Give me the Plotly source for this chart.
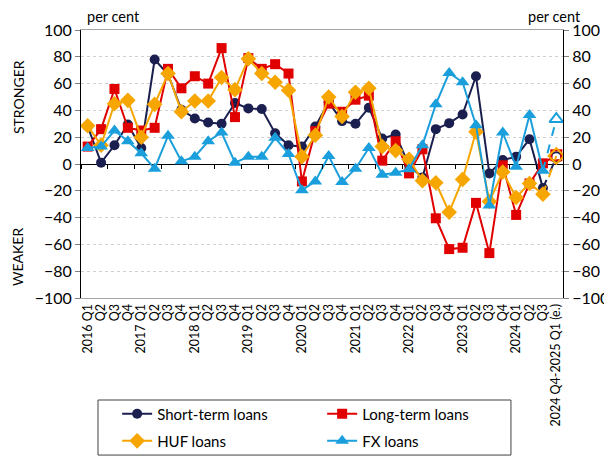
import plotly.graph_objects as go

labels = ["2016 Q1", "Q2", "Q3", "Q4",
          "2017 Q1", "Q2", "Q3", "Q4",
          "2018 Q1", "Q2", "Q3", "Q4",
          "2019 Q1", "Q2", "Q3", "Q4",
          "2020 Q1", "Q2", "Q3", "Q4",
          "2021 Q1", "Q2", "Q3", "Q4",
          "2022 Q1", "Q2", "Q3", "Q4",
          "2023 Q1", "Q2", "Q3", "Q4",
          "2024 Q1", "Q2", "Q3",
          "2024 Q4-2025 Q1 (e.)"]

short_term = [28, 1, 14, 29.5, 12, 78, 67, 40.5, 34, 31, 30, 45.5, 41.5, 41, 23, 14,
              13, 28, 46, 32, 30, 42, 19, 22, -1, -10, 26, 30.5, 37, 65.5, -7, 3,
              5.5, 18.5, -18, 5]
long_term = [13, 26, 56, 27, 25, 27, 71, 56.5, 65.5, 60, 86.5, 35, 79, 71, 74.5, 67.5,
             -13, 24.5, 45, 39, 48, 51, 2.5, 17, -7, 11, -40.5, -63.5, -62.5, -29, -66.5, -1,
             -38, -14.5, 0.5, 6.5]
huf = [28.5, 14, 45, 47.5, 20, 44.5, 67.5, 39, 47, 47, 64.5, 55.5, 78.5, 67.5, 61, 55,
       5.5, 21.5, 50, 35.5, 53.5, 56.5, 13, 10, 3.5, -12.5, -14, -36, -11.5, 24, -28, -6,
       -25, -14.5, -22.5, 6]
fx = [12, 13, 25, 17, 8, -3.5, 21, 2, 5.5, 17, 23.5, 1, 5.5, 5.5, 19.5, 7.5,
      -19.5, -13, 6, -13.5, -3.5, 12, -8, -6.5, -4, 14, 44.5, 68, 61, 29, -31, 23.5,
      -2, 36.5, -5, 33.5]

series = [
    ("Short-term loans", short_term, "#1b1f4f", "circle", 10, "legend"),
    ("Long-term loans", long_term, "#e00000", "square", 10, "legend"),
    ("HUF loans", huf, "#f7a600", "diamond", 12, "legend2"),
    ("FX loans", fx, "#1a9fdc", "triangle-up", 12, "legend2"),
]

idx = list(range(len(labels)))
n = len(labels)
FONT = "Lato"

fig = go.Figure()
for name, vals, col, sym, sz, leg in series:
    fig.add_trace(go.Scatter(
        x=idx[:n - 1], y=vals[:n - 1], name=name, mode="lines+markers",
        line=dict(color=col, width=2),
        marker=dict(symbol=sym, size=sz, color=col),
        legendgroup=name, legend=leg))
    fig.add_trace(go.Scatter(
        x=idx[n - 2:], y=vals[n - 2:], mode="lines", showlegend=False,
        line=dict(color=col, width=2, dash="dash"), legendgroup=name))
    fig.add_trace(go.Scatter(
        x=idx[n - 1:], y=vals[n - 1:], mode="markers", showlegend=False,
        marker=dict(symbol=sym + "-open", size=sz, color=col,
                    line=dict(color=col, width=2)),
        legendgroup=name))

# helper trace for the secondary axes (right y axis, tick marks on zero line)
fig.add_trace(go.Scatter(x=idx, y=[None] * n, xaxis="x2", yaxis="y2",
                         mode="lines", showlegend=False, hoverinfo="skip"))

legend_common = dict(orientation="h", xanchor="left", yanchor="middle",
                     entrywidth=160, entrywidthmode="pixels",
                     borderwidth=0, bgcolor="rgba(0,0,0,0)",
                     font=dict(size=15, family=FONT))

fig.update_layout(
    width=612, height=458,
    margin=dict(l=73, r=57, t=22, b=168, autoexpand=False),
    paper_bgcolor="white", plot_bgcolor="white",
    font=dict(family=FONT, size=14, color="black"),
    showlegend=True,
    xaxis=dict(range=[-0.5, n - 0.5], tickmode="array", tickvals=idx, ticktext=labels,
               tickangle=-90, ticks="", showline=True, mirror=True,
               linecolor="#a6a6a6", showgrid=False, zeroline=False, automargin=False,
               tickfont=dict(size=12.5, family=FONT)),
    xaxis2=dict(overlaying="x", anchor="free", position=0.5, range=[-0.5, n - 0.5],
                tickmode="linear", tick0=1.5, dtick=2, ticks="outside", ticklen=4,
                tickcolor="black", showline=False, showticklabels=False,
                showgrid=False, zeroline=False, automargin=False),
    yaxis=dict(range=[-100, 100], dtick=20, ticks="outside", ticklen=5,
               tickcolor="#808080", showline=True, linecolor="black",
               showgrid=True, gridcolor="#d0d0d0", griddash="dot",
               zeroline=True, zerolinecolor="black", zerolinewidth=1, automargin=False,
               tickfont=dict(size=16, family=FONT)),
    yaxis2=dict(overlaying="y", anchor="x", side="right", range=[-100, 100], dtick=20,
                ticks="outside", ticklen=5, tickcolor="#808080", showline=True,
                linecolor="black", showgrid=False, zeroline=False, automargin=False,
                tickfont=dict(size=16, family=FONT)),
    legend=dict(x=0.075, y=-0.433, **legend_common),
    legend2=dict(x=0.075, y=-0.534, **legend_common),
    shapes=[dict(type="rect", xref="paper", yref="paper", x0=0.0353, x1=0.892,
                 y0=-0.586, y1=-0.3806, line=dict(color="#404040", width=1),
                 fillcolor="rgba(0,0,0,0)", layer="below")],
    annotations=[
        dict(text="per cent", xref="paper", yref="paper", x=0.008, y=1.049,
             xanchor="left", yanchor="middle", showarrow=False, font=dict(size=14.5)),
        dict(text="per cent", xref="paper", yref="paper", x=1.0415, y=1.049,
             xanchor="right", yanchor="middle", showarrow=False, font=dict(size=14.5)),
        dict(text="STRONGER", xref="paper", yref="paper", x=-0.1307, y=0.75,
             textangle=-90, xanchor="center", yanchor="middle", showarrow=False,
             font=dict(size=14)),
        dict(text="WEAKER", xref="paper", yref="paper", x=-0.1307, y=0.153,
             textangle=-90, xanchor="center", yanchor="middle", showarrow=False,
             font=dict(size=14)),
    ],
)

fig.write_html("out.html")
